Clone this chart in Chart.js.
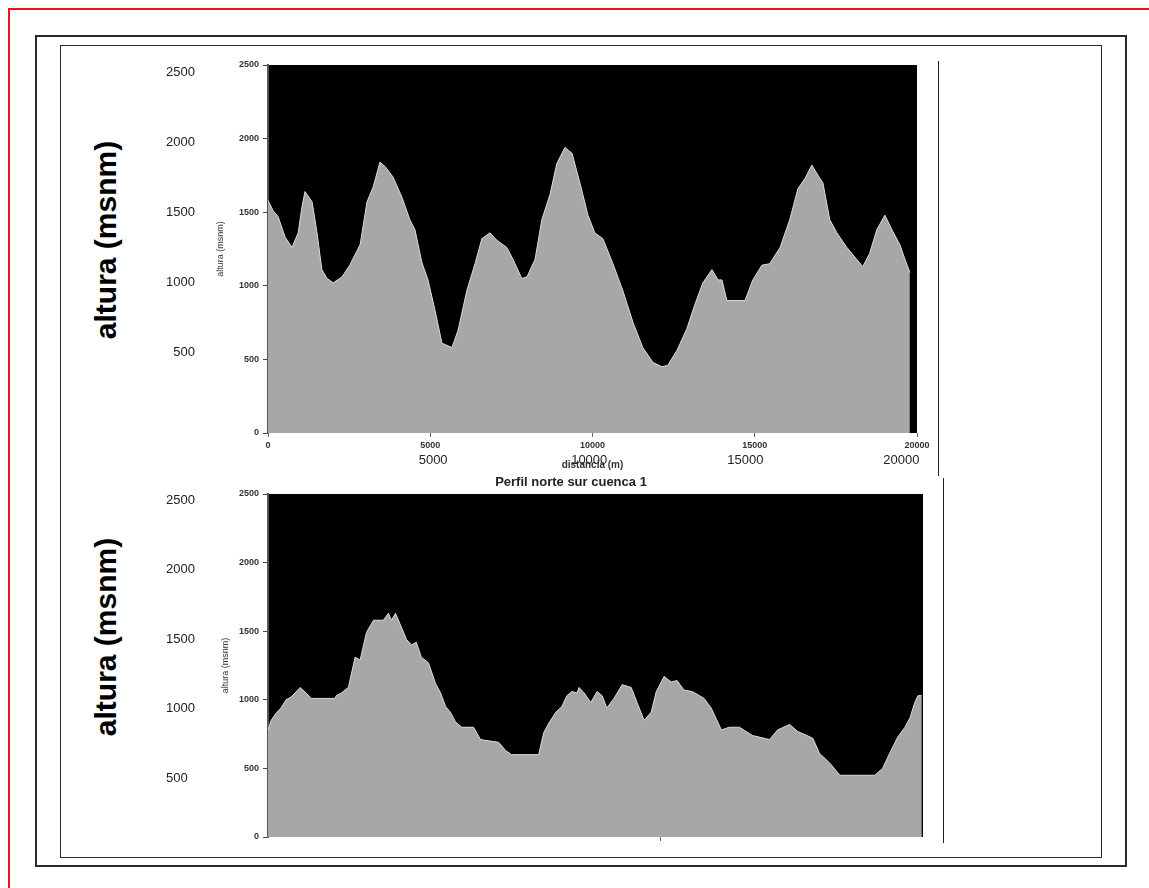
<!DOCTYPE html>
<html lang="es">
<head>
<meta charset="utf-8">
<title>Perfiles cuenca 1</title>
<script src="https://cdn.jsdelivr.net/npm/chart.js@4.4.1/dist/chart.umd.min.js"></script>
<style>
  body { margin: 0; background: #fff; width: 1149px; height: 888px; overflow: hidden; position: relative; font-family: Arial, "Liberation Sans", sans-serif; }
  .abs { position: absolute; }
  .rojo { background: #e8141c; }
  .marco1 { left: 35px; top: 35px; width: 1092px; height: 832px; border: 2px solid #2a2a2a; box-sizing: border-box; }
  .marco2 { left: 60px; top: 45px; width: 1042px; height: 813px; border: 1px solid #2a2a2a; box-sizing: border-box; }
  .linea { width: 1px; background: #222; }
  .altura { font-weight: bold; font-size: 30px; color: #000; white-space: nowrap; transform: translate(-50%, -50%) rotate(-90deg); }
</style>
</head>
<body>
<div class="abs rojo" style="left:8px;top:8px;width:1141px;height:2px"></div>
<div class="abs rojo" style="left:8px;top:8px;width:2px;height:880px"></div>
<div class="abs marco1"></div>
<div class="abs marco2"></div>
<div class="abs linea" style="left:938px;top:61px;height:415px"></div>
<div class="abs linea" style="left:943px;top:478px;height:365px"></div>

<div class="abs altura" style="left:106px;top:240px">altura (msnm)</div>
<div class="abs altura" style="left:106px;top:637px">altura (msnm)</div>

<canvas id="grafico1" class="abs" width="880" height="430" style="left:60px;top:48px"></canvas>
<canvas id="grafico2" class="abs" width="880" height="380" style="left:60px;top:470px"></canvas>

<script>
// Datos del perfil 1 (distancia en m, altura en msnm)
const distancias1 = [0, 160, 310, 530, 740, 930, 1050, 1140, 1360, 1510, 1660, 1820, 2010, 2280, 2520, 2840, 3050, 3240, 3450, 3610,
  3850, 4130, 4370, 4530, 4740, 4930, 5140, 5360, 5670, 5860, 6130, 6380, 6590, 6840, 7050, 7360, 7550, 7820, 7980, 8230,
  8440, 8690, 8900, 9150, 9370, 9610, 9860, 10070, 10320, 10630, 10930, 11250, 11550, 11860, 12140, 12320, 12600, 12910, 13150, 13400,
  13680, 13870, 13990, 14140, 14700, 14940, 15220, 15460, 15780, 16080, 16330, 16550, 16760, 16950, 17100, 17310, 17530, 17840, 18140, 18330,
  18540, 18760, 19010, 19230, 19470, 19630, 19780];
const alturas1 = [1580, 1510, 1470, 1330, 1260, 1360, 1540, 1640, 1570, 1360, 1110, 1050, 1020, 1060, 1140, 1280, 1570, 1670, 1840, 1810,
  1740, 1600, 1450, 1380, 1160, 1040, 840, 610, 580, 700, 970, 1150, 1320, 1360, 1310, 1260, 1180, 1050, 1060, 1180,
  1450, 1620, 1830, 1940, 1900, 1700, 1480, 1360, 1320, 1150, 970, 750, 580, 480, 450, 460, 560, 710, 870, 1020,
  1110, 1040, 1040, 900, 900, 1040, 1140, 1150, 1260, 1450, 1660, 1730, 1820, 1750, 1700, 1450, 1360, 1260, 1180, 1130,
  1220, 1380, 1480, 1380, 1280, 1180, 1090];

// Datos del perfil 2 "Perfil norte sur cuenca 1"
const distancias2 = [0, 80, 200, 330, 460, 590, 820, 970, 1100, 1710, 1740, 1870, 2050, 2220, 2350, 2510, 2690, 2940, 3070, 3150,
  3250, 3400, 3530, 3660, 3780, 3910, 4090, 4270, 4400, 4530, 4650, 4780, 4940, 5240, 5420, 5880, 6060, 6210, 6900, 7030,
  7160, 7340, 7490, 7620, 7750, 7880, 7930, 8060, 8230, 8390, 8520, 8640, 8820, 9030, 9260, 9410, 9590, 9770, 9900, 10100,
  10280, 10430, 10610, 10820, 11120, 11300, 11560, 11760, 12020, 12350, 12790, 12990, 13300, 13500, 13890, 14060, 14320, 14580, 15470, 15670,
  15850, 16060, 16240, 16370, 16490, 16570, 16670];
const alturas2 = [780, 850, 900, 940, 1000, 1020, 1090, 1050, 1010, 1010, 1030, 1050, 1090, 1310, 1290, 1490, 1580, 1580, 1630, 1580,
  1630, 1530, 1440, 1400, 1420, 1310, 1270, 1120, 1050, 950, 910, 840, 800, 800, 710, 690, 630, 600, 600, 760,
  830, 910, 950, 1030, 1060, 1050, 1090, 1050, 980, 1060, 1030, 940, 1010, 1110, 1090, 980, 850, 910, 1060, 1170,
  1130, 1140, 1070, 1060, 1010, 940, 780, 800, 800, 740, 710, 780, 820, 770, 720, 610, 540, 450, 450, 500,
  610, 730, 800, 870, 980, 1030, 1030];

// Etiquetas de los ejes
const ticksAltura = [0, 500, 1000, 1500, 2000, 2500];
const ticksDistancia = [0, 5000, 10000, 15000, 20000];
const ticksDistanciaGrandes = [5000, 10000, 15000, 20000];
const ticksDistancia2 = [10000];

// fondo negro del area de la grafica
const fondoNegro = {
  id: "fondoNegro",
  beforeDraw(chart) {
    const a = chart.chartArea;
    chart.ctx.save();
    chart.ctx.fillStyle = "#000";
    chart.ctx.fillRect(a.left, a.top, a.right - a.left, a.bottom - a.top);
    chart.ctx.restore();
  }
};

Chart.defaults.font.family = 'Arial, "Liberation Sans", sans-serif';
Chart.defaults.color = "#222";

function puntos(xs, ys) {
  return xs.map((x, i) => ({ x: x, y: ys[i] }));
}

function serie(xs, ys) {
  return {
    data: puntos(xs, ys),
    backgroundColor: "#a7a7a7",
    borderColor: "#dcdcdc",
    borderWidth: 1,
    fill: "origin",
    pointRadius: 0,
    tension: 0
  };
}

const tickChico = { size: 9, weight: "bold" };
const fijarTicks = (lista) => (eje) => { eje.ticks = lista.map(v => ({ value: v })); };

// Grafico 1
new Chart(document.getElementById("grafico1"), {
  type: "line",
  data: { datasets: [serie(distancias1, alturas1)] },
  plugins: [fondoNegro],
  options: {
    responsive: false,
    animation: false,
    devicePixelRatio: 1,
    layout: { padding: { top: 17, right: 23, left: 0, bottom: 0 } },
    plugins: { legend: { display: false }, tooltip: { enabled: false } },
    scales: {
      y: {
        position: "left", weight: 0, min: 0, max: 2500,
        afterBuildTicks: fijarTicks(ticksAltura),
        afterFit: (eje) => { eje.width = 73; },
        grid: { drawOnChartArea: false, tickLength: 5, color: "#444" },
        border: { color: "#555", width: 2 },
        ticks: { font: tickChico, padding: 4, color: "#333", callback: v => String(v) },
        title: { display: true, text: "altura (msnm)", font: { size: 9 }, padding: { top: 20 }, color: "#333" }
      },
      // etiquetas grandes de la izquierda
      yGrande: {
        position: "left", weight: 1, min: -79, max: 2550,
        afterBuildTicks: fijarTicks(ticksAltura.slice(1)),
        afterFit: (eje) => { eje.width = 135; },
        grid: { display: false, drawTicks: false },
        border: { display: false },
        ticks: { font: { size: 13 }, padding: 0, color: "#222", callback: v => String(v) }
      },
      x: {
        type: "linear", position: "bottom", weight: 0, min: 0, max: 20000,
        afterBuildTicks: fijarTicks(ticksDistancia),
        afterFit: (eje) => { eje.height = 20; },
        grid: { drawOnChartArea: false, tickLength: 4, color: "#666" },
        border: { display: false },
        ticks: { font: tickChico, padding: 3, color: "#333", maxRotation: 0, callback: v => String(v) }
      },
      xGrande: {
        type: "linear", position: "bottom", weight: 1, min: -290, max: 20500,
        afterBuildTicks: fijarTicks(ticksDistanciaGrandes),
        afterFit: (eje) => { eje.height = 25; },
        grid: { display: false, drawTicks: false },
        border: { display: false },
        ticks: { font: { size: 13 }, padding: 0, color: "#222", maxRotation: 0, callback: v => String(v) },
        title: { display: true, text: "distancia (m)", font: { size: 10, weight: "bold" }, padding: { bottom: 7 }, color: "#333" }
      }
    }
  }
});

// Grafico 2
new Chart(document.getElementById("grafico2"), {
  type: "line",
  data: { datasets: [serie(distancias2, alturas2)] },
  plugins: [fondoNegro],
  options: {
    responsive: false,
    animation: false,
    devicePixelRatio: 1,
    layout: { padding: { top: 0, right: 17, left: 159, bottom: 0 } },
    plugins: {
      legend: { display: false },
      tooltip: { enabled: false },
      title: { display: true, text: "Perfil norte sur cuenca 1", font: { size: 13, weight: "bold" }, color: "#222", padding: { top: 5, bottom: 3.4 } }
    },
    scales: {
      y: {
        position: "left", weight: 0, min: 0, max: 2500,
        afterBuildTicks: fijarTicks(ticksAltura),
        afterFit: (eje) => { eje.width = 39; },
        grid: { drawOnChartArea: false, tickLength: 5, color: "#444" },
        border: { color: "#555", width: 2 },
        ticks: { font: tickChico, padding: 4, color: "#333", callback: v => String(v) },
        title: { display: true, text: "altura (msnm)", font: { size: 9 }, padding: { top: -9 }, color: "#333" }
      },
      // mirror para que las etiquetas no se recorten fuera de la caja del eje
      yGrande: {
        position: "left", weight: 1, min: 76, max: 2543,
        afterBuildTicks: fijarTicks(ticksAltura.slice(1)),
        afterFit: (eje) => { eje.width = 10; },
        grid: { display: false, drawTicks: false },
        border: { display: false },
        ticks: { font: { size: 13 }, mirror: true, padding: -63, color: "#222", callback: v => String(v) }
      },
      x: {
        type: "linear", position: "bottom", min: 0, max: 16700,
        afterBuildTicks: fijarTicks(ticksDistancia2),
        afterFit: (eje) => { eje.height = 13; },
        grid: { drawOnChartArea: false, tickLength: 4, color: "#666" },
        border: { display: false },
        ticks: { display: false }
      }
    }
  }
});
</script>
</body>
</html>
